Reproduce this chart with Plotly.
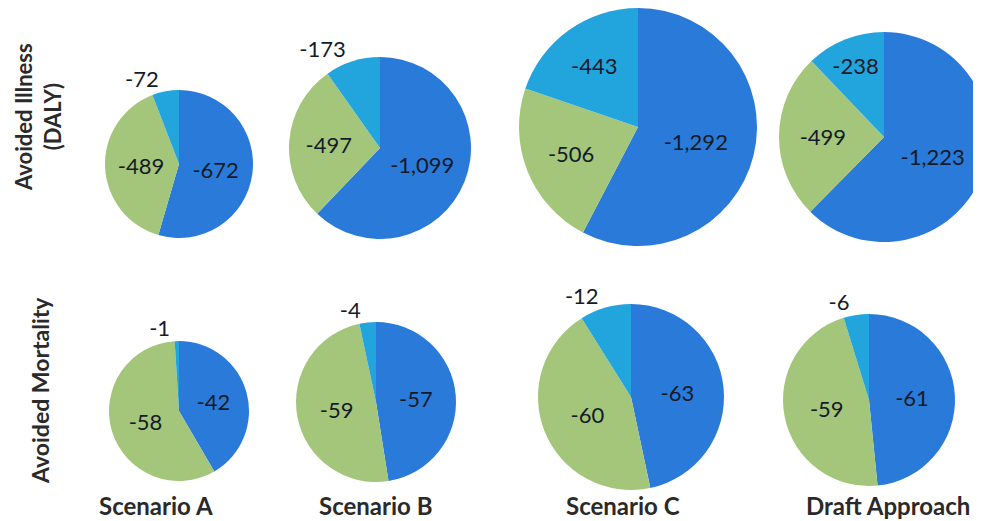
import plotly.graph_objects as go

# ---------------- data ----------------
scenarios = ["Scenario A", "Scenario B", "Scenario C", "Draft Approach"]
row_titles = ["Avoided Illness<br>(DALY)", "Avoided Mortality"]

# slice order: dark blue, green, light blue (clockwise from 12 o'clock)
illness_a = [-672, -489, -72]
illness_b = [-1099, -497, -173]
illness_c = [-1292, -506, -443]
illness_d = [-1223, -499, -238]

mortality_a = [-42, -58, -1]
mortality_b = [-57, -59, -4]
mortality_c = [-63, -60, -12]
mortality_d = [-61, -59, -6]

colors = ["#2a7ad9", "#a3c67a", "#22a4dd"]

W, H = 981, 521
OFF = 8  # page body margin

# page-pixel geometry of each pie: (center x, center y, radius)
geom = [
    (179, 164, 74), (380, 148, 91), (638, 127, 119), (884, 137, 105),
    (179, 411, 70), (376, 402, 80), (631, 397, 93), (869, 400, 86),
]
series = [illness_a, illness_b, illness_c, illness_d,
          mortality_a, mortality_b, mortality_c, mortality_d]
textpos = [
    ["inside", "inside", "outside"],
    ["inside", "inside", "outside"],
    ["inside", "inside", "inside"],
    ["inside", "inside", "inside"],
    ["inside", "inside", "outside"],
    ["inside", "inside", "outside"],
    ["inside", "inside", "outside"],
    ["inside", "inside", "outside"],
]

fig = go.Figure()
for vals, (cx, cy, r), tp in zip(series, geom, textpos):
    cx -= OFF
    cy -= OFF
    x0 = max(0, (cx - r) / W)
    x1 = min(1, (cx + r) / W)
    y0 = max(0, 1 - (cy + r) / H)
    y1 = min(1, 1 - (cy - r) / H)
    fig.add_trace(go.Pie(
        values=[abs(v) for v in vals],
        text=[f"{v:,}" for v in vals],
        textinfo="text",
        textposition=tp,
        insidetextorientation="horizontal",
        sort=False,
        direction="clockwise",
        rotation=0,
        marker=dict(colors=colors, line=dict(width=0)),
        textfont=dict(family="Lato", size=22, color="#151a28"),
        domain=dict(x=[x0, x1], y=[y0, y1]),
        showlegend=False,
        hoverinfo="skip",
    ))


def px(x):
    return (x - OFF) / W


def py(y):
    return 1 - (y - OFF) / H


annotations = []
annotations.append(dict(text="<b>Avoided Illness</b><br><b>(DALY)</b>",
                        x=px(38), y=py(117), xref="paper", yref="paper",
                        xanchor="center", yanchor="middle",
                        textangle=-90, showarrow=False,
                        font=dict(family="Lato", size=22, color="#2a2a2a")))
annotations.append(dict(text="<b>" + row_titles[1] + "</b>",
                        x=px(40), y=py(391), xref="paper", yref="paper",
                        xanchor="center", yanchor="middle",
                        textangle=-90, showarrow=False,
                        font=dict(family="Lato", size=23, color="#2a2a2a")))
col_x = [156, 376, 623, 888]
for name, xc in zip(scenarios, col_x):
    annotations.append(dict(text="<b>" + name + "</b>",
                            x=px(xc), y=py(505), xref="paper", yref="paper",
                            xanchor="center", yanchor="middle",
                            showarrow=False,
                            font=dict(family="Lato", size=24, color="#2a2a2a")))

fig.update_layout(
    width=W, height=H,
    margin=dict(l=0, r=0, t=0, b=0),
    paper_bgcolor="white",
    plot_bgcolor="white",
    annotations=annotations,
)

fig.write_html("out.html")
